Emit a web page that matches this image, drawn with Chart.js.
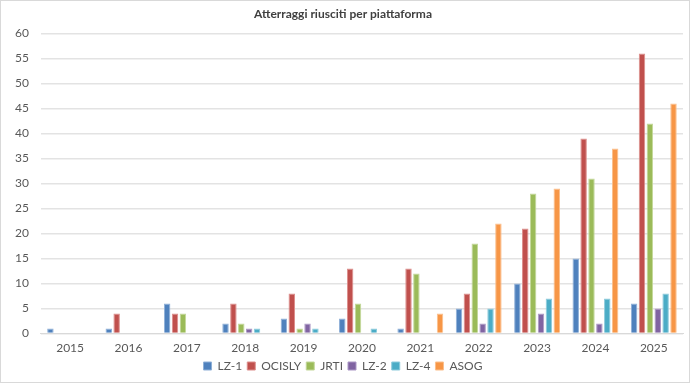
<!DOCTYPE html>
<html>
<head>
<meta charset="utf-8">
<script src="https://cdn.jsdelivr.net/npm/chart.js@4"></script>
<style>
  html, body { margin: 0; padding: 0; background: #fff; }
  #wrap { position: relative; width: 688px; height: 381px; border: 1px solid #d9d9d9; }
</style>
</head>
<body>
<div id="wrap"><canvas id="c"></canvas></div>
<script>
// Data
const years = ["2015", "2016", "2017", "2018", "2019", "2020", "2021", "2022", "2023", "2024", "2025"];
const lz1    = [1, 1, 6, 2, 3, 3, 1, 5, 10, 15, 6];
const ocisly = [0, 4, 4, 6, 8, 13, 13, 8, 21, 39, 56];
const jrti   = [0, 0, 4, 2, 1, 6, 12, 18, 28, 31, 42];
const lz2    = [0, 0, 0, 1, 2, 0, 0, 2, 4, 2, 5];
const lz4    = [0, 0, 0, 1, 1, 1, 0, 5, 7, 7, 8];
const asog   = [0, 0, 0, 0, 0, 0, 4, 22, 29, 37, 46];

const FONT = "Lato, 'Open Sans', sans-serif";

const ds = (label, data, color, edge) => ({
  label,
  data,
  backgroundColor: color,
  borderColor: edge,
  borderWidth: 1,
  borderSkipped: "bottom",
});

new Chart(document.getElementById("c"), {
  type: "bar",
  data: {
    labels: years,
    datasets: [
      ds("LZ-1", lz1, "#4f81bd", "#8fb0d8"),
      ds("OCISLY", ocisly, "#c0504d", "#dd8e8c"),
      ds("JRTI", jrti, "#9bbb59", "#c3d89a"),
      ds("LZ-2", lz2, "#8064a2", "#ab98c5"),
      ds("LZ-4", lz4, "#4bacc6", "#8dcbdc"),
      ds("ASOG", asog, "#f79646", "#fbbf8c"),
    ],
  },
  options: {
    responsive: true,
    maintainAspectRatio: false,
    animation: false,
    categoryPercentage: 0.81,
    barPercentage: 0.82,
    layout: { padding: { left: 2, right: 6, top: 4, bottom: 0 } },
    plugins: {
      title: {
        display: true,
        text: "Atterraggi riusciti per piattaforma",
        color: "#404040",
        font: { family: FONT, size: 12, weight: "bold" },
        padding: { top: 2, bottom: 12 },
      },
      legend: {
        position: "bottom",
        labels: {
          color: "#595959",
          font: { family: FONT, size: 12 },
          boxWidth: 8,
          boxHeight: 8,
          padding: 5,
        },
      },
      tooltip: { enabled: false },
    },
    scales: {
      x: {
        ticks: { color: "#595959", font: { family: FONT, size: 12 }, maxRotation: 0, padding: 0 },
        grid: { display: false, tickLength: 7 },
        border: { color: "#d9d9d9" },
      },
      y: {
        min: 0,
        max: 60,
        ticks: { stepSize: 5, color: "#595959", font: { family: FONT, size: 12 }, padding: 12 },
        grid: { color: "#e3e3e3", lineWidth: 1.5, drawTicks: false },
        border: { display: false },
      },
    },
  },
});
</script>
</body>
</html>
